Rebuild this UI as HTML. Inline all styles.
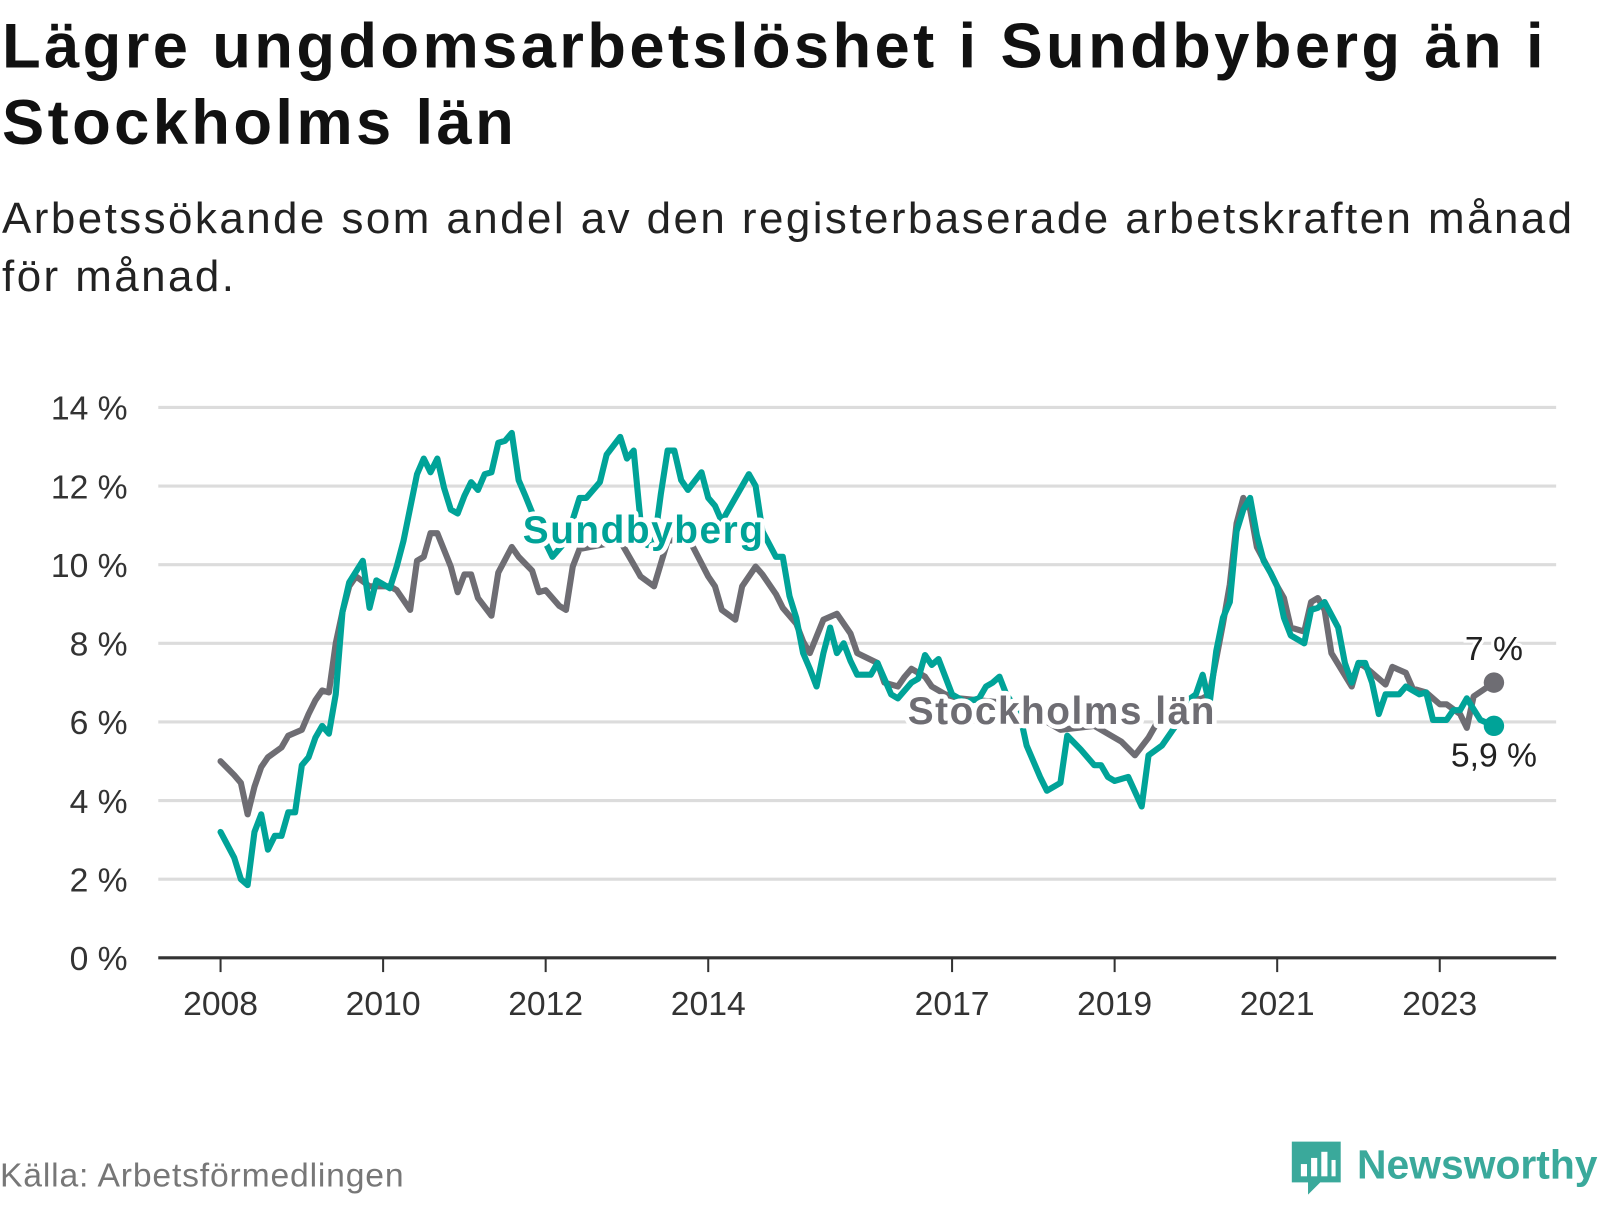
<!DOCTYPE html>
<html><head><meta charset="utf-8">
<style>
html,body{margin:0;padding:0;background:#fff;}
body{width:1600px;height:1200px;position:relative;overflow:hidden;font-family:"Liberation Sans",sans-serif;}
#wrap{position:absolute;left:0;top:0;width:1567px;height:1176px;transform:scale(1.0211);transform-origin:0 0;}
#title{position:absolute;left:2px;top:8px;font-size:62px;font-weight:bold;line-height:75px;color:#111;margin:0;letter-spacing:3.3px;white-space:nowrap;}
#subtitle{position:absolute;left:2px;top:186px;font-size:43px;line-height:57px;color:#222;margin:0;letter-spacing:2.4px;white-space:nowrap;}
#source{position:absolute;left:0;top:1132px;font-size:33px;color:#777;letter-spacing:0.8px;}
#logo{position:absolute;left:1265px;top:1116px;}
</style></head>
<body>
<div id="wrap">
<h1 id="title">Lägre ungdomsarbetslöshet i Sundbyberg än i<br>Stockholms län</h1>
<p id="subtitle">Arbetssökande som andel av den registerbaserade arbetskraften månad<br>för månad.</p>
<svg id="chart" width="1567" height="1176" style="position:absolute;left:0;top:0" xmlns="http://www.w3.org/2000/svg"></svg>
<div id="source">Källa: Arbetsförmedlingen</div>
<div id="logo">
<svg width="310" height="60" xmlns="http://www.w3.org/2000/svg">
<path d="M0 2h48v40H28l-12 12v-12H0z" fill="#3aa99b"/>
<rect x="9" y="24" width="6" height="12" fill="#fff"/><rect x="19" y="18" width="6" height="18" fill="#fff"/><rect x="29" y="12" width="6" height="24" fill="#fff"/><rect x="39" y="20" width="4" height="16" fill="#fff"/>
<text x="64" y="38" font-family="Liberation Sans, sans-serif" font-size="40" font-weight="bold" fill="#3aa99b">Newsworthy</text>
</svg></div>
</div>
<script>
const sbMonths=[0,2,3,4,5,6,7,8,9,10,11,12,13,14,15,16,17,18,19,21,22,23,25,26,27,29,30,31,32,33,34,35,36,37,38,39,40,41,42,43,44,45,47,49,51,53,54,56,57,59,60,61,62,63,64,65,66,67,68,69,71,72,73,74,78,79,80,82,83,84,85,86,87,88,89,90,91,92,93,94,96,97,98,99,100,102,103,104,105,106,108,110,112,113,114,115,116,118,119,121,122,124,125,127,129,130,131,132,134,136,137,139,141,142,144,145,146,147,148,149,150,151,152,153,154,155,156,157,158,160,161,162,163,165,166,167,168,169,170,171,172,174,175,177,178,179,181,182,183,184,186,188];
const sbValues=[3.2,2.55,2.0,1.85,3.2,3.65,2.75,3.1,3.1,3.7,3.7,4.9,5.1,5.6,5.9,5.7,6.7,8.8,9.55,10.1,8.9,9.6,9.4,9.95,10.6,12.3,12.7,12.35,12.7,11.95,11.4,11.3,11.75,12.1,11.9,12.3,12.35,13.1,13.15,13.35,12.15,11.75,10.9,10.2,10.6,11.7,11.7,12.1,12.8,13.25,12.7,12.9,11.1,10.5,10.5,11.8,12.9,12.9,12.15,11.9,12.35,11.7,11.5,11.1,12.3,12.0,10.85,10.2,10.2,9.2,8.65,7.75,7.35,6.9,7.75,8.4,7.75,8.0,7.55,7.2,7.2,7.5,7.1,6.7,6.6,7.0,7.1,7.7,7.45,7.6,6.7,6.5,6.6,6.9,7.0,7.15,6.7,6.2,5.4,4.6,4.25,4.45,5.65,5.3,4.9,4.9,4.6,4.5,4.6,3.85,5.15,5.4,5.9,6.45,6.7,7.2,6.45,7.8,8.65,9.05,10.85,11.4,11.7,10.75,10.1,9.8,9.45,8.65,8.2,8.0,8.85,8.9,9.05,8.4,7.5,7.0,7.5,7.5,7.0,6.2,6.7,6.7,6.9,6.7,6.75,6.05,6.05,6.3,6.3,6.6,6.05,5.9];
const stMonths=[0,2,3,4,5,6,7,9,10,12,13,14,15,16,17,18,19,20,22,23,25,26,28,29,30,31,32,34,35,36,37,38,40,41,43,44,46,47,48,50,51,52,53,56,59,62,64,66,69,72,73,74,76,77,79,80,82,83,85,86,87,89,91,93,94,97,98,100,101,102,104,105,107,109,115,120,124,129,133,135,137,139,142,145,146,148,149,150,151,152,153,155,156,157,158,160,161,162,163,164,167,168,169,171,172,173,175,176,178,180,181,183,184,185,188];
const stValues=[5.0,4.65,4.45,3.65,4.35,4.85,5.1,5.35,5.65,5.8,6.2,6.55,6.8,6.75,8.0,8.8,9.45,9.7,9.45,9.45,9.45,9.35,8.85,10.1,10.2,10.8,10.8,9.95,9.3,9.75,9.75,9.15,8.7,9.8,10.45,10.2,9.85,9.3,9.35,8.95,8.85,9.95,10.4,10.5,10.6,9.7,9.45,10.6,10.7,9.7,9.45,8.85,8.6,9.45,9.95,9.75,9.25,8.9,8.5,8.05,7.75,8.6,8.75,8.25,7.75,7.5,7.0,6.9,7.15,7.35,7.15,6.9,6.7,6.6,6.5,6.2,5.8,5.9,5.5,5.15,5.6,6.2,6.5,6.6,6.7,8.5,9.5,11.05,11.7,11.4,10.45,9.8,9.45,9.15,8.4,8.3,9.05,9.15,8.85,7.75,6.9,7.5,7.4,7.1,6.95,7.4,7.25,6.85,6.75,6.45,6.45,6.2,5.85,6.65,7.0];
const yTicks=[0,2,4,6,8,10,12,14];
const xTickYears=[2008,2010,2012,2014,2017,2019,2021,2023];

const svg=document.getElementById('chart');
const NS='http://www.w3.org/2000/svg';
const x=m=>216+m*(79.6/12);
const y=v=>938-v*38.5;
function mk(tag,attrs,parent){const e=document.createElementNS(NS,tag);for(const k in attrs)e.setAttribute(k,attrs[k]);(parent||svg).appendChild(e);return e;}

yTicks.forEach(t=>{
  const g=mk('line',{x1:155,x2:1524,y1:y(t),y2:y(t),stroke:t===0?'#333':'#dcdcdc','stroke-width':3});
  
  
  const tx=mk('text',{x:125,y:y(t)+12,'text-anchor':'end','font-size':33,fill:'#333','font-family':'Liberation Sans, sans-serif'});
  tx.textContent=t+' %';
  
  
});
xTickYears.forEach(yr=>{
  const m=(yr-2008)*12;
  const l=mk('line',{x1:x(m),x2:x(m),y1:938,y2:952,stroke:'#333','stroke-width':2});
  
  
  const tx=mk('text',{x:x(m),y:994,'text-anchor':'middle','font-size':33,fill:'#333','font-family':'Liberation Sans, sans-serif'});
  tx.textContent=yr;
  
  
});
function line(ms,vs,color,name){
  const d=ms.map((m,i)=>(i?'L':'M')+x(m).toFixed(1)+' '+y(vs[i]).toFixed(1)).join('');
  const p=mk('path',{d:d,fill:'none',stroke:color,'stroke-width':6,'stroke-linejoin':'round','stroke-linecap':'round'});
  
  
  return p;
}
line(stMonths,stValues,'#6e6d73','stockholm-line');
line(sbMonths,sbValues,'#00a398','sundbyberg-line');
function lbl(tx,xx,yy,color,name){
  const t=mk('text',{x:xx,y:yy,'font-size':38,'font-weight':'bold',fill:color,stroke:'#fff','stroke-width':9,'paint-order':'stroke','stroke-linejoin':'round','font-family':'Liberation Sans, sans-serif','letter-spacing':1.5});
  t.textContent=tx;
  
  
}
lbl('Sundbyberg',512,532,'#00a398','sundbyberg-label');
lbl('Stockholms län',889,709,'#6e6d73','stockholm-label');
const lastSt=stMonths.length-1, lastSb=sbMonths.length-1;
const d1=mk('circle',{cx:x(stMonths[lastSt]),cy:y(stValues[lastSt]),r:10,fill:'#6e6d73'});


const d2=mk('circle',{cx:x(sbMonths[lastSb]),cy:y(sbValues[lastSb]),r:10,fill:'#00a398'});


const e1=mk('text',{x:x(stMonths[lastSt]),y:y(stValues[lastSt])-22,'text-anchor':'middle','font-size':33,fill:'#222',stroke:'#fff','stroke-width':6,'paint-order':'stroke','font-family':'Liberation Sans, sans-serif'});
e1.textContent=String(stValues[lastSt]).replace('.',',')+' %';


const e2=mk('text',{x:x(sbMonths[lastSb]),y:y(sbValues[lastSb])+40,'text-anchor':'middle','font-size':33,fill:'#222',stroke:'#fff','stroke-width':6,'paint-order':'stroke','font-family':'Liberation Sans, sans-serif'});
e2.textContent=String(sbValues[lastSb]).replace('.',',')+' %';


</script>
</body></html>
